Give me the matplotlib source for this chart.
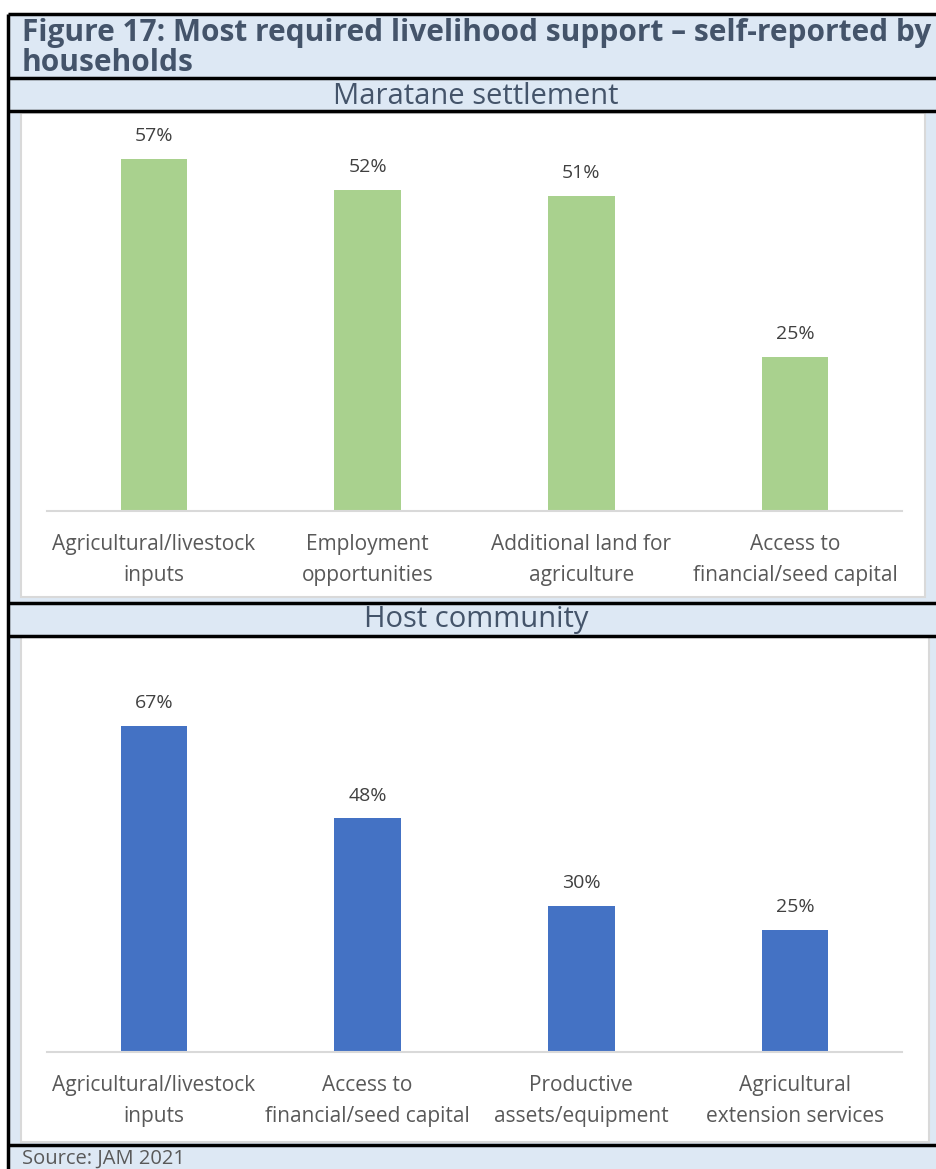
import matplotlib
matplotlib.use("Agg")
import matplotlib.pyplot as plt
from matplotlib.patches import Rectangle

# livelihood support needs, share of households
maratane_labels = ["Agricultural/livestock\ninputs", "Employment\nopportunities",
                   "Additional land for\nagriculture", "Access to\nfinancial/seed capital"]
maratane_values = [0.57, 0.52, 0.51, 0.25]

host_labels = ["Agricultural/livestock\ninputs", "Access to\nfinancial/seed capital",
               "Productive\nassets/equipment", "Agricultural\nextension services"]
host_values = [0.67, 0.48, 0.30, 0.25]

W, H = 936, 1169
BOX_BG = "#dde8f4"
TITLE_COL = "#44546a"
TEXT_COL = "#595959"
FONT = ["Open Sans", "DejaVu Sans"]

fig = plt.figure(figsize=(W / 100, H / 100), dpi=100)
fig.patch.set_facecolor("white")

# background layer in pixel coordinates (y down)
bg = fig.add_axes([0, 0, 1, 1])
bg.set_xlim(0, W)
bg.set_ylim(H, 0)
bg.axis("off")

bg.add_patch(Rectangle((8, 14), W, H, facecolor=BOX_BG, edgecolor="none"))
for px, py, pw, ph in [(21, 113, 904, 484), (21, 637, 908, 505)]:
    bg.add_patch(Rectangle((px, py), pw, ph, facecolor="white",
                           edgecolor="#d9d9d9", linewidth=1.5))
for yy in [14, 78, 111, 603, 636, 1145]:
    bg.plot([8, W], [yy, yy], color="black", lw=2.5, solid_capstyle="butt")
bg.plot([8, 8], [14, H], color="black", lw=2.5, solid_capstyle="butt")

bg.text(22, 33, "Figure 17: Most required livelihood support \u2013 self-reported by",
        fontsize=21.5, fontweight="bold", color=TITLE_COL, family=FONT,
        ha="left", va="center")
bg.text(22, 63, "households", fontsize=21.5, fontweight="bold", color=TITLE_COL,
        family=FONT, ha="left", va="center")
bg.text(476, 97, "Maratane settlement", fontsize=21, color=TITLE_COL, family=FONT,
        ha="center", va="center")
bg.text(476, 619, "Host community", fontsize=21, color=TITLE_COL, family=FONT,
        ha="center", va="center")
bg.text(22, 1159, "Source: JAM 2021", fontsize=14.5, color=TEXT_COL, family=FONT,
        ha="left", va="center")


def bar_panel(base_px, ymax, scale_px, labels, values, color):
    left, right = 47, 902
    height = ymax * scale_px
    ax = fig.add_axes([left / W, (H - base_px) / H, (right - left) / W, height / H])
    ax.patch.set_alpha(0)
    x = range(len(values))
    ax.bar(x, values, width=0.31, color=color, zorder=2)
    for xi, v in zip(x, values):
        ax.annotate(f"{v:.0%}", (xi, v), xytext=(0, 16.5), textcoords="offset points",
                    ha="center", va="center", fontsize=14, color="#404040",
                    family=FONT, annotation_clip=False)
    ax.set_xlim(-0.5, len(values) - 0.5)
    ax.set_ylim(0, ymax)
    ax.set_yticks([])
    ax.set_xticks(list(x))
    ax.set_xticklabels(labels, fontsize=15, color=TEXT_COL, family=FONT, linespacing=1.6)
    ax.tick_params(axis="x", length=0, pad=16.5)
    for side in ["top", "left", "right"]:
        ax.spines[side].set_visible(False)
    ax.spines["bottom"].set_color("#d9d9d9")
    ax.spines["bottom"].set_linewidth(1.5)
    return ax


bar_panel(511, 0.6, 617.5, maratane_labels, maratane_values, "#a9d18e")
bar_panel(1052, 0.8, 486.6, host_labels, host_values, "#4472c4")

fig.savefig("out.png", dpi=100)
